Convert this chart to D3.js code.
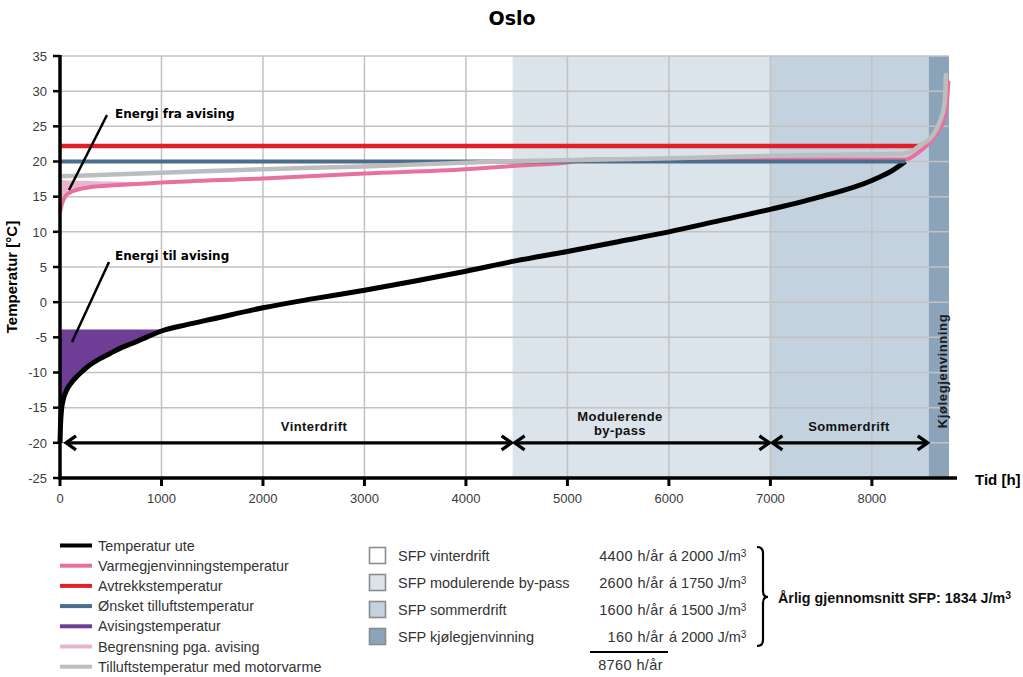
<!DOCTYPE html>
<html><head><meta charset="utf-8">
<script src="https://cdn.jsdelivr.net/npm/d3@7"></script>
<style>body{margin:0;background:#fff} svg{display:block}</style>
</head><body><svg id="c" width="1023" height="677"></svg>
<script>
// ---- data ----
const xTicks = [0,1000,2000,3000,4000,5000,6000,7000,8000];
const yTicks = [-25,-20,-15,-10,-5,0,5,10,15,20,25,30,35];

const hoursUte = [0,5,15,30,66,110,164,230,296,400,493,600,722,850,1000,1250,1500,2000,2500,3000,3500,4000,4500,5000,5500,6000,6500,7000,7500,8000,8200,8330];
const tempUte  = [-20,-17.5,-15.3,-14.0,-12.5,-11.5,-10.6,-9.7,-8.9,-8.0,-7.3,-6.5,-5.8,-5.0,-4.1,-3.2,-2.4,-0.8,0.5,1.7,3.0,4.4,5.9,7.2,8.6,10.0,11.6,13.2,15.0,17.3,18.7,20.0];

const hoursVg = [0,20,50,100,150,200,350,500,700,1000,2000,3000,4000,4500,5000,5200,6000,7000,8000,8330,8450,8550,8650,8700,8740,8755];
const tempVg  = [12.8,14.0,15.0,15.6,15.9,16.1,16.45,16.6,16.75,17.0,17.6,18.3,18.9,19.4,19.85,20.3,20.3,20.3,20.3,20.3,21.2,22.4,24.2,25.6,28.5,31.5];

const hoursBeg = [0,20,50,100,150,200,350,500,700,1000];
const tempBeg  = [17.4,17.38,17.35,17.3,17.27,17.25,17.2,17.15,17.05,17.0];

const hoursAvtrekk = [0,8460];
const tempAvtrekk  = [22.2,22.2];

const hoursOnsket = [0,8330];
const tempOnsket  = [20,20];

const avisingTemp = -3.9;
const avisingEnd = 1000;

const hoursMotor = [0,1000,2000,3000,4335,5800,7300,8300,8400,8473,8588,8670,8719,8729];
const tempMotor  = [17.9,18.4,18.9,19.3,20.0,20.4,20.9,21.1,21.5,22.3,23.5,25.7,28.5,32.3];

const phaseBounds = [0,4460,7000,8560,8760];
const phaseColors = ["#ffffff","#dbe3eb","#c3d2de","#8ba4ba"];
const phaseArrowLabels = [["Vinterdrift"],["Modulerende","by-pass"],["Sommerdrift"]];

const legendLines = ["Temperatur ute","Varmegjenvinningstemperatur","Avtrekkstemperatur","Ønsket tilluftstemperatur","Avisingstemperatur","Begrensning pga. avising","Tilluftstemperatur med motorvarme"];
const legendLineColors = ["#000000","#e8709f","#e01f27","#4b6e8c","#6e3d96","#e8b5cf","#bdbdbd"];

const phaseLabels = ["SFP vinterdrift","SFP modulerende by-pass","SFP sommerdrift","SFP kjølegjenvinning"];
const phaseHoursPerYear = [4400,2600,1600,160];
const phaseSFP = [2000,1750,1500,2000];
const totalHours = 8760;
const avgSFP = 1834;

// ---- chart ----
const svg = d3.select("#c");
const x = d3.scaleLinear().domain([0,8760]).range([60,949]);
const y = d3.scaleLinear().domain([-25,35]).range([478,56]);
const pts = (hs, ts) => hs.map((h,i)=>[h, ts[i]]);
const line = d3.line().x(d=>x(d[0])).y(d=>y(d[1])).curve(d3.curveMonotoneX);

// bands
svg.append("g").selectAll("rect").data(phaseColors).join("rect")
  .attr("x",(d,i)=>x(phaseBounds[i])).attr("width",(d,i)=>x(phaseBounds[i+1])-x(phaseBounds[i]))
  .attr("y",y(35)).attr("height",y(-25)-y(35)).attr("fill",d=>d);

// grid
const grid = svg.append("g").attr("stroke","#c2c2c2").attr("stroke-width",1.5);
grid.selectAll("line.v").data(xTicks.slice(1)).join("line")
  .attr("x1",d=>x(d)).attr("x2",d=>x(d)).attr("y1",y(35)).attr("y2",y(-25));
grid.selectAll("line.h").data(yTicks.slice(1)).join("line")
  .attr("x1",x(0)).attr("x2",x(8760)).attr("y1",d=>y(d)).attr("y2",d=>y(d));

// purple fill (avising)
const uteLow = pts(hoursUte,tempUte).filter(d=>d[0]<=avisingEnd);
svg.append("path").datum(uteLow)
  .attr("d", d3.area().x(d=>x(d[0])).y0(d=>y(d[1])).y1(y(avisingTemp)).curve(d3.curveMonotoneX))
  .attr("fill","#6e3d96");

// light pink fill (begrensning)
svg.append("path").datum(hoursBeg.map((h,i)=>[h,tempBeg[i],tempVg[i]]))
  .attr("d", d3.area().x(d=>x(d[0])).y0(d=>y(d[2])).y1(d=>y(d[1])).curve(d3.curveMonotoneX))
  .attr("fill","#e8b5cf");

// lines
svg.append("path").datum(pts(hoursUte,tempUte)).attr("d",line).attr("fill","none").attr("stroke","#000").attr("stroke-width",5);
svg.append("path").datum(pts(hoursAvtrekk,tempAvtrekk)).attr("d",line).attr("fill","none").attr("stroke","#e01f27").attr("stroke-width",4.5);
svg.append("path").datum(pts(hoursVg,tempVg)).attr("d",line).attr("fill","none").attr("stroke","#e8709f").attr("stroke-width",4);
svg.append("path").datum(pts(hoursOnsket,tempOnsket)).attr("d",line).attr("fill","none").attr("stroke","#4b6e8c").attr("stroke-width",4);
svg.append("path").datum(pts(hoursMotor,tempMotor)).attr("d",line).attr("fill","none").attr("stroke","#bdbdbd").attr("stroke-width",4.5).attr("stroke-linecap","round");

// axes
const ax = svg.append("g").attr("stroke","#000");
ax.append("line").attr("x1",x(0)).attr("x2",x(0)).attr("y1",y(35)-1).attr("y2",y(-25)+1.5).attr("stroke-width",3.5);
ax.append("line").attr("x1",x(0)-1.5).attr("x2",957).attr("y1",y(-25)).attr("y2",y(-25)).attr("stroke-width",3.5);
ax.selectAll("line.yt").data(yTicks).join("line").attr("x1",x(0)-7).attr("x2",x(0)).attr("y1",d=>y(d)).attr("y2",d=>y(d)).attr("stroke-width",2.5);
ax.selectAll("line.xt").data(xTicks).join("line").attr("x1",d=>x(d)).attr("x2",d=>x(d)).attr("y1",y(-25)).attr("y2",y(-25)+8).attr("stroke-width",3);

const tickFont = "'Liberation Sans', Arial, sans-serif";
svg.append("g").selectAll("text").data(yTicks).join("text")
  .attr("x",47).attr("y",d=>y(d)).attr("dy","0.36em").attr("text-anchor","end")
  .attr("font-family",tickFont).attr("font-size",13).attr("fill","#3a3a3a").text(d=>d);
svg.append("g").selectAll("text").data(xTicks).join("text")
  .attr("x",d=>x(d)).attr("y",503).attr("text-anchor","middle")
  .attr("font-family",tickFont).attr("font-size",13).attr("fill","#3a3a3a").text(d=>d);

// titles
svg.append("text").attr("x",512).attr("y",25).attr("text-anchor","middle")
  .attr("font-family","'DejaVu Sans', Verdana, sans-serif").attr("font-weight","bold").attr("font-size",19).text("Oslo");
svg.append("text").attr("transform","translate(17,277) rotate(-90)").attr("text-anchor","middle")
  .attr("font-family",tickFont).attr("font-weight","bold").attr("font-size",15).text("Temperatur [°C]");
svg.append("text").attr("x",975).attr("y",485)
  .attr("font-family",tickFont).attr("font-weight","bold").attr("font-size",15).text("Tid [h]");

// arrows
const arrowY = y(-20);
const arrows = svg.append("g").attr("stroke","#000").attr("fill","none").attr("stroke-width",3.2);
for (let i=0;i<3;i++){
  const a = x(phaseBounds[i]) + (i===0?6:2), b = x(phaseBounds[i+1]) - 1;
  arrows.append("line").attr("x1",a).attr("x2",b).attr("y1",arrowY).attr("y2",arrowY);
  arrows.append("path").attr("d",`M${a+10},${arrowY-7}L${a},${arrowY}L${a+10},${arrowY+7}`);
  arrows.append("path").attr("d",`M${b-10},${arrowY-7}L${b},${arrowY}L${b-10},${arrowY+7}`);
  const cx = i===0 ? 314 : (i===1 ? 620 : 849);
  const lab = phaseArrowLabels[i];
  lab.forEach((t,j)=>{
    svg.append("text").attr("x",cx).attr("y", lab.length===1 ? 431 : 421 + j*14)
      .attr("text-anchor","middle").attr("font-family",tickFont).attr("font-weight","bold")
      .attr("font-size",13).attr("letter-spacing",0.4).attr("fill","#111").text(t);
  });
}
svg.append("text").attr("transform",`translate(946.5,${371}) rotate(-90)`).attr("text-anchor","middle")
  .attr("font-family",tickFont).attr("font-weight","bold").attr("font-size",13).attr("letter-spacing",0.6)
  .attr("fill","#1a1a1a").text("Kjølegjenvinning");

// annotations
const annFont = "'DejaVu Sans', Verdana, sans-serif";
svg.append("line").attr("x1",107).attr("y1",115).attr("x2",69).attr("y2",190).attr("stroke","#000").attr("stroke-width",2.5);
svg.append("text").attr("x",115).attr("y",118).attr("font-family",annFont).attr("font-weight","bold").attr("font-size",12).text("Energi fra avising");
svg.append("line").attr("x1",109).attr("y1",262).attr("x2",72).attr("y2",342).attr("stroke","#000").attr("stroke-width",2.5);
svg.append("text").attr("x",115).attr("y",260).attr("font-family",annFont).attr("font-weight","bold").attr("font-size",12).text("Energi til avising");

// legend lines
const lg = svg.append("g");
legendLines.forEach((t,i)=>{
  const ly = 545.5 + i*20.2;
  lg.append("line").attr("x1",60).attr("x2",92).attr("y1",ly).attr("y2",ly).attr("stroke",legendLineColors[i]).attr("stroke-width",4);
  lg.append("text").attr("x",98).attr("y",ly).attr("dy","0.36em").attr("font-family",tickFont).attr("font-size",14.4).attr("fill","#333").text(t);
});

// legend phases
const boxFill = phaseColors;
phaseLabels.forEach((t,i)=>{
  const ly = 555.5 + i*27;
  lg.append("rect").attr("x",369.5).attr("y",ly-8).attr("width",16).attr("height",16)
    .attr("fill",boxFill[i]).attr("stroke","#8c8c8c").attr("stroke-width",1.6);
  lg.append("text").attr("x",398).attr("y",ly).attr("dy","0.36em").attr("font-family",tickFont).attr("font-size",14.5).attr("fill","#333").text(t);
  lg.append("text").attr("x",664).attr("y",ly).attr("dy","0.36em").attr("text-anchor","end").attr("font-family",tickFont).attr("font-size",14.5).attr("letter-spacing",0.4).attr("fill","#333").text(phaseHoursPerYear[i]+" h/år");
  const tt = lg.append("text").attr("x",669).attr("y",ly).attr("dy","0.36em").attr("font-family",tickFont).attr("font-size",14.5).attr("fill","#333");
  tt.append("tspan").text("á "+phaseSFP[i]+" J/m");
  tt.append("tspan").attr("dy","-0.4em").attr("font-size",10).text("3");
});
lg.append("line").attr("x1",590).attr("x2",668).attr("y1",652).attr("y2",652).attr("stroke","#000").attr("stroke-width",2);
lg.append("text").attr("x",663).attr("y",665).attr("dy","0.36em").attr("text-anchor","end").attr("font-family",tickFont).attr("font-size",14.5).attr("letter-spacing",0.4).attr("fill","#333").text(totalHours+" h/år");

// brace
lg.append("path").attr("d","M757,547 Q763,547 763,553 L763,591 Q763,597 768,597 Q763,597 763,603 L763,640 Q763,646 757,646")
  .attr("fill","none").attr("stroke","#000").attr("stroke-width",2.2);
const avg = lg.append("text").attr("x",778).attr("y",598).attr("dy","0.36em").attr("font-family",tickFont).attr("font-weight","bold").attr("font-size",14.3).attr("fill","#111");
avg.append("tspan").text("Årlig gjennomsnitt SFP: "+avgSFP+" J/m");
avg.append("tspan").attr("dy","-0.4em").attr("font-size",10.5).text("3");
</script></body></html>
